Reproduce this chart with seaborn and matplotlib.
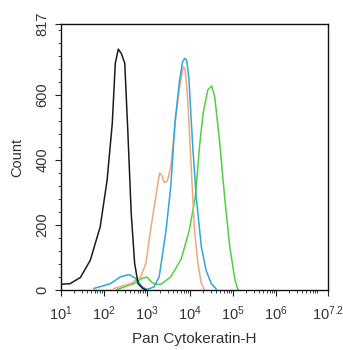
import numpy as np
import pandas as pd
import matplotlib
matplotlib.use("Agg")
import matplotlib.pyplot as plt
import matplotlib.ticker as mticker
import seaborn as sns

# Histogram traces: log10 fluorescence intensity and event count
black_exp = [1.00, 1.21, 1.45, 1.68, 1.91, 2.07, 2.19, 2.26, 2.33, 2.40, 2.48, 2.55, 2.63, 2.71, 2.79, 2.89, 2.98]
black_cnt = [18, 20, 39, 92, 195, 338, 512, 697, 740, 727, 697, 492, 236, 82, 20, 6, 0]

blue_exp = [1.76, 2.15, 2.38, 2.58, 2.73, 2.89, 3.00, 3.16, 3.28, 3.44, 3.55, 3.65, 3.75, 3.82, 3.87, 3.92, 3.97, 4.06, 4.14, 4.26, 4.37, 4.49, 4.61]
blue_cnt = [5, 20, 41, 48, 36, 10, 2, 10, 41, 184, 320, 520, 640, 700, 712, 706, 650, 440, 287, 133, 61, 20, 3]

orange_exp = [2.22, 2.62, 2.85, 2.97, 3.08, 3.20, 3.29, 3.34, 3.40, 3.47, 3.55, 3.64, 3.75, 3.84, 3.88, 3.94, 4.02, 4.10, 4.18, 4.26, 4.33]
orange_cnt = [5, 20, 41, 82, 184, 287, 360, 352, 330, 335, 380, 500, 620, 686, 680, 594, 389, 184, 82, 20, 2]

green_exp = [2.30, 2.69, 2.88, 3.00, 3.10, 3.20, 3.32, 3.55, 3.79, 3.98, 4.12, 4.22, 4.30, 4.41, 4.50, 4.57, 4.68, 4.80, 4.92, 5.04, 5.11]
green_cnt = [2, 20, 36, 40, 25, 18, 18, 41, 95, 184, 287, 445, 543, 615, 627, 594, 461, 287, 133, 31, 2]

series = {
    "isotype": (black_exp, black_cnt, "#1c1c1c"),
    "sample_a": (orange_exp, orange_cnt, "#e9ab7e"),
    "sample_b": (blue_exp, blue_cnt, "#2ea8da"),
    "sample_c": (green_exp, green_cnt, "#52cf40"),
}

x_tick_exp = [1, 2, 3, 4, 5, 6, 7.2]
x_tick_labels = ["$10^{1}$", "$10^{2}$", "$10^{3}$", "$10^{4}$", "$10^{5}$", "$10^{6}$", "$10^{7.2}$"]
y_ticks = [0, 200, 400, 600, 817]

sns.set_style("white")
plt.rcParams["font.family"] = ["Liberation Sans", "DejaVu Sans"]
plt.rcParams["mathtext.fontset"] = "custom"
plt.rcParams["mathtext.rm"] = "Liberation Sans"
plt.rcParams["mathtext.it"] = "Liberation Sans"

fig = plt.figure(figsize=(3.43, 3.5), dpi=100)
ax = fig.add_axes([0.178, 0.171, 0.778, 0.760])

frames = []
for name, (ex, cnt, col) in series.items():
    frames.append(pd.DataFrame({"intensity": 10 ** np.array(ex), "count": cnt, "trace": name}))
df = pd.concat(frames, ignore_index=True)

palette = {k: v[2] for k, v in series.items()}
order = ["sample_c", "sample_a", "sample_b", "isotype"]
for name in order:
    sub = df[df["trace"] == name]
    sns.lineplot(data=sub, x="intensity", y="count", color=palette[name],
                 linewidth=1.1, ax=ax, sort=False, estimator=None)

ax.set_xscale("log")
ax.set_xlim(10 ** 1, 10 ** 7.2)
ax.set_ylim(0, 817)

ax.xaxis.set_major_locator(mticker.FixedLocator([10 ** e for e in x_tick_exp]))
ax.xaxis.set_major_formatter(mticker.FixedFormatter(x_tick_labels))
ax.xaxis.set_minor_locator(mticker.LogLocator(base=10, subs=np.arange(2, 10), numticks=20))
ax.xaxis.set_minor_formatter(mticker.NullFormatter())

ax.yaxis.set_major_locator(mticker.FixedLocator(y_ticks))
ax.yaxis.set_minor_locator(mticker.MultipleLocator(40))

ax.tick_params(axis="both", which="major", direction="out", length=4.5, width=0.8,
               color="#222222", labelcolor="#333333", labelsize=10.5)
ax.tick_params(axis="x", which="major", pad=6)
ax.tick_params(axis="y", which="major", pad=4)
ax.tick_params(axis="both", which="minor", direction="out", length=2.5, width=0.6, color="#222222")
ax.tick_params(axis="x", which="both", bottom=True)
ax.tick_params(axis="y", which="both", left=True)
for lab in ax.get_yticklabels():
    lab.set_rotation(90)
    lab.set_va("center")

for sp in ax.spines.values():
    sp.set_color("#111111")
    sp.set_linewidth(1.0)

ax.set_xlabel("Pan Cytokeratin-H", fontsize=11, color="#333333", labelpad=6)
ax.set_ylabel("Count", fontsize=10.5, color="#333333", labelpad=8)
ax.grid(False)

fig.savefig("out.png", dpi=100)
